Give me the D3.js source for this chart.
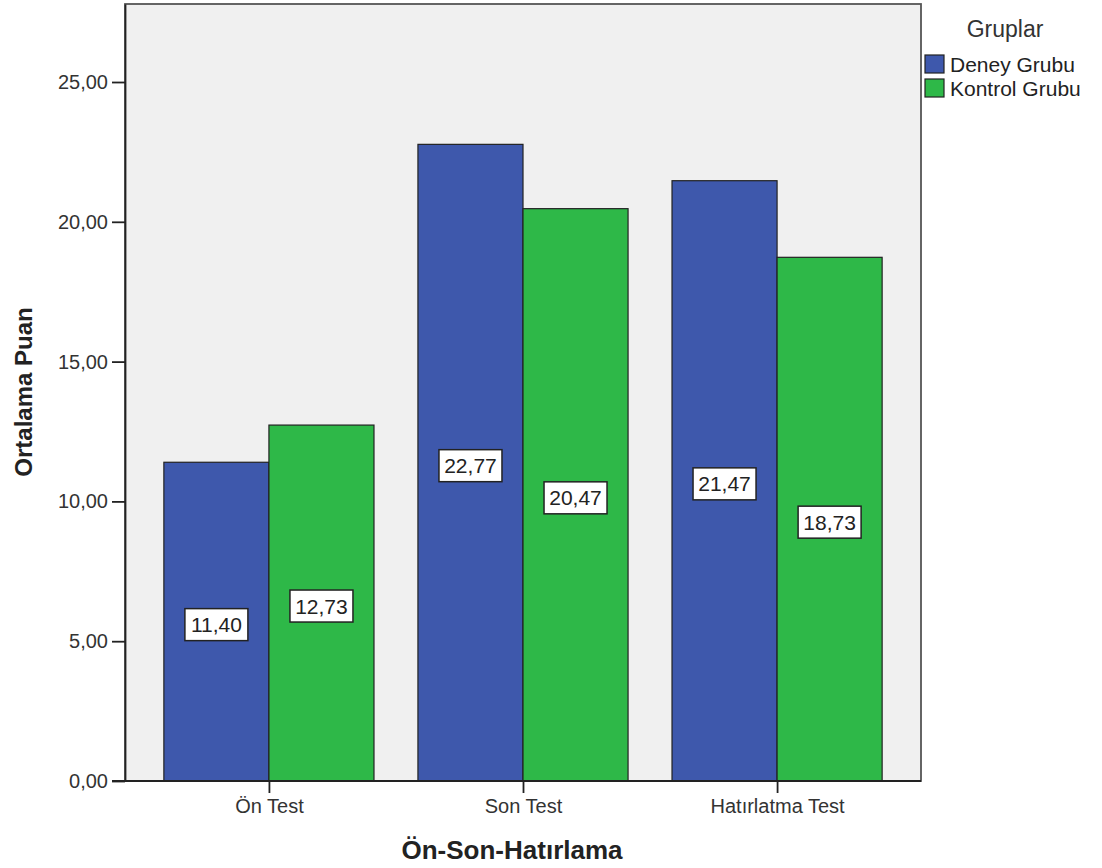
<!DOCTYPE html>
<html><head><meta charset="utf-8">
<script src="https://cdn.jsdelivr.net/npm/d3@7"></script>
<style>
body{margin:0;background:#fff;}
text{font-family:"Liberation Sans",Arial,sans-serif;}
</style></head>
<body><svg id="c" width="1102" height="868"></svg>
<script>
const categories = ["Ön Test", "Son Test", "Hatırlatma Test"];
const groups = ["Deney Grubu", "Kontrol Grubu"];
const deneyValues = [11.40, 22.77, 21.47];
const kontrolValues = [12.73, 20.47, 18.73];
const yTicks = [0, 5, 10, 15, 20, 25];
const colors = ["#3E58AC", "#2EB848"];

const data = categories.map((c, i) => ({cat: c, vals: [deneyValues[i], kontrolValues[i]]}));

const svg = d3.select("#c");
const L = 125, R = 921, T = 4, B = 781;
const fmt = v => v.toFixed(2).replace(".", ",");
const FF = "Liberation Sans, Arial, sans-serif";

const x0 = d3.scaleBand().domain(categories).range([L, R]).paddingInner(0.173).paddingOuter(0.153);
const x1 = d3.scaleBand().domain(groups).range([0, x0.bandwidth()]).padding(0);
const y = d3.scaleLinear().domain([0, 27.79]).range([B, T]);

// plot background
svg.append("rect").attr("x", L).attr("y", T).attr("width", R - L).attr("height", B - T)
  .attr("fill", "#F0F0F0").attr("stroke", "#555").attr("stroke-width", 1.8);

// bars
const g = svg.append("g");
data.forEach(d => {
  d.vals.forEach((v, j) => {
    const bx = x0(d.cat) + x1(groups[j]);
    g.append("rect").attr("x", bx).attr("y", y(v)).attr("width", x1.bandwidth())
      .attr("height", y(0) - y(v)).attr("fill", colors[j]).attr("stroke", "#222").attr("stroke-width", 1.2);
  });
});

// labels
data.forEach(d => {
  d.vals.forEach((v, j) => {
    const cx = x0(d.cat) + x1(groups[j]) + x1.bandwidth() / 2;
    const cy = y(v / 2) + 3;
    const lg = svg.append("g");
    lg.append("rect").attr("x", cx - 31.5).attr("y", cy - 16).attr("width", 63).attr("height", 32)
      .attr("fill", "#fff").attr("stroke", "#222").attr("stroke-width", 1.5);
    lg.append("text").attr("x", cx).attr("y", cy + 7.5).attr("text-anchor", "middle")
      .attr("font-size", 21).attr("fill", "#222").text(fmt(v));
  });
});

// y axis
const ya = svg.append("g").attr("transform", `translate(${L},0)`)
  .call(d3.axisLeft(y).tickValues(yTicks).tickSize(13).tickSizeOuter(0).tickPadding(4).tickFormat(fmt));
ya.select(".domain").attr("stroke", "#222").attr("stroke-width", 1.8);
ya.selectAll(".tick line").attr("stroke", "#222").attr("stroke-width", 1.8);
ya.selectAll(".tick text").attr("font-size", 20).attr("fill", "#333").attr("font-family", FF);

// x axis
const xc = d3.scalePoint().domain(categories).range([x0(categories[0]) + x0.bandwidth()/2, x0(categories[2]) + x0.bandwidth()/2]);
const xa = svg.append("g").attr("transform", `translate(0,${B})`)
  .call(d3.axisBottom(xc).tickSize(12).tickPadding(6));
xa.select(".domain").remove();
svg.append("line").attr("x1", L - 13).attr("x2", R).attr("y1", B).attr("y2", B).attr("stroke", "#222").attr("stroke-width", 1.8);
xa.selectAll(".tick line").attr("stroke", "#222").attr("stroke-width", 1.8);
xa.selectAll(".tick text").attr("font-size", 20).attr("fill", "#333").attr("font-family", FF);

// axis titles
svg.append("text").attr("transform", "translate(32,392) rotate(-90)").attr("text-anchor", "middle")
  .attr("font-size", 24).attr("font-weight", "bold").attr("fill", "#222").text("Ortalama Puan");
svg.append("text").attr("x", 512).attr("y", 859).attr("text-anchor", "middle")
  .attr("font-size", 26).attr("font-weight", "bold").attr("fill", "#222").text("Ön-Son-Hatırlama");

// legend
svg.append("text").attr("x", 1005).attr("y", 37).attr("text-anchor", "middle")
  .attr("font-size", 23).attr("fill", "#333").text("Gruplar");
groups.forEach((gname, j) => {
  const yy = 55 + j * 24;
  svg.append("rect").attr("x", 925).attr("y", yy).attr("width", 19).attr("height", 18)
    .attr("fill", colors[j]).attr("stroke", "#222").attr("stroke-width", 1.2);
  svg.append("text").attr("x", 950).attr("y", yy + 17).attr("font-size", 21).attr("fill", "#222").text(gname);
});
</script></body></html>
